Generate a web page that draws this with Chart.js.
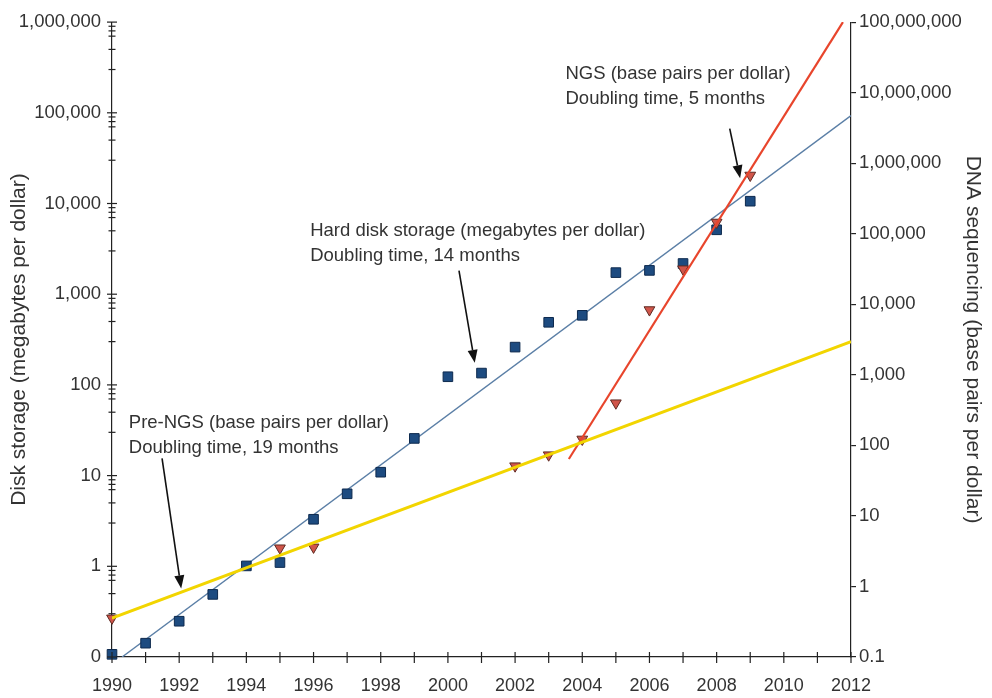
<!DOCTYPE html>
<html>
<head>
<meta charset="utf-8">
<script src="https://cdn.jsdelivr.net/npm/chart.js@4/dist/chart.umd.min.js"></script>
<style>
    html, body { margin: 0; padding: 0; background: #fff; }
    #wrap { width: 992px; height: 698px; position: relative; }
</style>
</head>
<body>
<div id="wrap"><canvas id="chart"></canvas></div>
<script>
// Hard disk storage, megabytes per dollar (left axis)
const diskYears = [1990, 1991, 1992, 1993, 1994, 1995, 1996, 1997, 1998, 1999, 2000, 2001, 2002, 2003, 2004, 2005, 2006, 2007, 2008, 2009]
const diskValues = [0.107, 0.142, 0.248, 0.49, 1.01, 1.1, 3.3, 6.3, 10.9, 25.7, 123, 135, 261, 490, 585, 1730, 1830, 2180, 5130, 10600]

// DNA sequencing, base pairs per dollar (right axis)
const seqYears = [1990, 1995, 1996, 2002, 2003, 2004, 2005, 2006, 2007, 2008, 2009]
const seqValues = [0.355, 3.5, 3.6, 51, 73, 122, 398, 8330, 31600, 145000, 673000]

// fitted trend lines
const diskTrendYears = [1990.3, 2012]
const diskTrendValues = [0.1, 93000]
const preNgsTrendYears = [1990, 2012]
const preNgsTrendValues = [0.355, 2950]
const ngsTrendYears = [2003.6, 2011.76]
const ngsTrendValues = [64, 100000000]

// axes
const yearTicks = [1990, 1991, 1992, 1993, 1994, 1995, 1996, 1997, 1998, 1999, 2000, 2001, 2002, 2003, 2004, 2005, 2006, 2007, 2008, 2009, 2010, 2011, 2012]
const yearLabels = ['1990', '', '1992', '', '1994', '', '1996', '', '1998', '', '2000', '', '2002', '', '2004', '', '2006', '', '2008', '', '2010', '', '2012']
const leftTicks = [0.1, 1, 10, 100, 1000, 10000, 100000, 1000000]
const leftTickLabels = ['0', '1', '10', '100', '1,000', '10,000', '100,000', '1,000,000']
const leftMinorSteps = [3, 5, 7, 8, 9]
const rightTicks = [0.1, 1, 10, 100, 1000, 10000, 100000, 1000000, 10000000, 100000000]
const rightTickLabels = ['0.1', '1', '10', '100', '1,000', '10,000', '100,000', '1,000,000', '10,000,000', '100,000,000']

// notes, placed in (year, left-axis value)
const notes = [
    { lines: ['NGS (base pairs per dollar)', 'Doubling time, 5 months'], year: 2003.5, value: 270000 },
    { lines: ['Hard disk storage (megabytes per dollar)', 'Doubling time, 14 months'], year: 1995.9, value: 5000 },
    { lines: ['Pre-NGS (base pairs per dollar)', 'Doubling time, 19 months'], year: 1990.5, value: 38.5 },
]
const arrows = [
    { from: [2008.39, 67000], to: [2008.7, 19000] },
    { from: [2000.33, 1820], to: [2000.8, 175] },
    { from: [1991.49, 15.5], to: [1992.06, 0.57] },
]

const FONT = '"Liberation Sans", Arial, Helvetica, sans-serif'
const INK = '#333'
const AXIS = '#222'

const toPoints = (xs, ys) => xs.map((x, i) => ({ x: x, y: ys[i] }))

function line(ctx, x1, y1, x2, y2) {
    ctx.beginPath()
    ctx.moveTo(x1, y1)
    ctx.lineTo(x2, y2)
    ctx.stroke()
}

// crossing tick marks on left and bottom axes, plus the notes and arrows
const decorations = {
    id: 'decorations',
    afterDraw(chart) {
        const { ctx, chartArea, scales } = chart
        const x = scales.x
        const y = scales.y
        ctx.save()
        ctx.strokeStyle = AXIS
        ctx.lineWidth = 1.2
        const ax = chartArea.left
        leftTicks.forEach((v) => {
            const py = y.getPixelForValue(v)
            line(ctx, ax - 5, py, ax + 5, py)
        })
        leftTicks.slice(0, -1).forEach((v) => {
            leftMinorSteps.forEach((m) => {
                const py = y.getPixelForValue(v * m)
                line(ctx, ax - 3.5, py, ax + 3.5, py)
            })
        })
        const by = chartArea.bottom
        yearTicks.forEach((yr) => {
            const px = x.getPixelForValue(yr)
            line(ctx, px, by - 5, px, by + 6)
        })

        // notes
        ctx.fillStyle = INK
        ctx.font = '18.5px ' + FONT
        ctx.textAlign = 'left'
        ctx.textBaseline = 'middle'
        notes.forEach((n) => {
            const px = x.getPixelForValue(n.year)
            const py = y.getPixelForValue(n.value)
            n.lines.forEach((t, i) => ctx.fillText(t, px, py + i * 25))
        })

        // arrows
        ctx.strokeStyle = '#111'
        ctx.fillStyle = '#111'
        ctx.lineWidth = 1.6
        arrows.forEach((a) => {
            const x1 = x.getPixelForValue(a.from[0])
            const y1 = y.getPixelForValue(a.from[1])
            const x2 = x.getPixelForValue(a.to[0])
            const y2 = y.getPixelForValue(a.to[1])
            const ang = Math.atan2(y2 - y1, x2 - x1)
            const head = 13
            const hx = x2 - head * Math.cos(ang)
            const hy = y2 - head * Math.sin(ang)
            line(ctx, x1, y1, hx, hy)
            ctx.beginPath()
            ctx.moveTo(x2, y2)
            ctx.lineTo(hx + 5 * Math.sin(ang), hy - 5 * Math.cos(ang))
            ctx.lineTo(hx - 5 * Math.sin(ang), hy + 5 * Math.cos(ang))
            ctx.closePath()
            ctx.fill()
        })
        ctx.restore()
    },
}

const ctx = document.getElementById('chart').getContext('2d')

new Chart(ctx, {
    type: 'scatter',
    data: {
        datasets: [
            {
                label: 'Pre-NGS trend',
                data: toPoints(preNgsTrendYears, preNgsTrendValues),
                yAxisID: 'y2',
                showLine: true,
                borderColor: '#f2d500',
                borderWidth: 3,
                pointRadius: 0,
            },
            {
                label: 'NGS trend',
                data: toPoints(ngsTrendYears, ngsTrendValues),
                yAxisID: 'y2',
                showLine: true,
                borderColor: '#e8452c',
                borderWidth: 2.2,
                pointRadius: 0,
            },
            {
                label: 'DNA sequencing',
                data: toPoints(seqYears, seqValues),
                yAxisID: 'y2',
                clip: false,
                pointStyle: 'triangle',
                rotation: 180,
                pointRadius: 6.2,
                backgroundColor: '#d0554a',
                borderColor: '#5e2a22',
                borderWidth: 1,
            },
            {
                label: 'Disk storage',
                data: toPoints(diskYears, diskValues),
                yAxisID: 'y',
                clip: false,
                pointStyle: 'rect',
                pointRadius: 6.8,
                backgroundColor: '#1d4b80',
                borderColor: '#0e2a4e',
                borderWidth: 1,
            },
            {
                label: 'Disk trend',
                data: toPoints(diskTrendYears, diskTrendValues),
                yAxisID: 'y',
                showLine: true,
                borderColor: '#5b7fa6',
                borderWidth: 1.4,
                pointRadius: 0,
            },
        ],
    },
    options: {
        responsive: true,
        maintainAspectRatio: false,
        animation: false,
        layout: { padding: { top: 19, left: 0, right: 0, bottom: 0 } },
        plugins: {
            legend: { display: false },
            tooltip: { enabled: false },
        },
        scales: {
            x: {
                type: 'linear',
                min: 1990,
                max: 2012,
                afterBuildTicks: (s) => { s.ticks = yearTicks.map((v) => ({ value: v })) },
                afterFit: (s) => { s.height = 41 },
                grid: { display: false, drawTicks: false },
                border: { display: true, color: AXIS, width: 1.2 },
                ticks: {
                    autoSkip: false,
                    maxRotation: 0,
                    padding: 18,
                    color: INK,
                    font: { family: FONT, size: 18 },
                    callback: (v, i) => yearLabels[i],
                },
            },
            y: {
                type: 'logarithmic',
                position: 'left',
                min: 0.1,
                max: 1000000,
                afterBuildTicks: (s) => { s.ticks = leftTicks.map((v) => ({ value: v })) },
                afterFit: (s) => { s.width = 112 },
                grid: { display: false, drawTicks: false },
                border: { display: true, color: AXIS, width: 1.2 },
                ticks: {
                    padding: 11,
                    color: INK,
                    font: { family: FONT, size: 18.5 },
                    callback: (v, i) => leftTickLabels[i],
                },
                title: {
                    display: true,
                    text: 'Disk storage (megabytes per dollar)',
                    color: INK,
                    font: { family: FONT, size: 21 },
                    padding: { top: 7, bottom: 0 },
                },
            },
            y2: {
                type: 'logarithmic',
                position: 'right',
                min: 0.1,
                max: 100000000,
                afterBuildTicks: (s) => { s.ticks = rightTicks.map((v) => ({ value: v })) },
                afterFit: (s) => { s.width = 141 },
                grid: { display: true, drawOnChartArea: false, drawTicks: true, tickLength: 5, color: AXIS, lineWidth: 1.2 },
                border: { display: true, color: AXIS, width: 1.2 },
                ticks: {
                    padding: 3,
                    color: INK,
                    font: { family: FONT, size: 18.5 },
                    callback: (v, i) => rightTickLabels[i],
                },
                title: {
                    display: true,
                    text: 'DNA sequencing (base pairs per dollar)',
                    color: INK,
                    font: { family: FONT, size: 21 },
                    padding: { top: 7, bottom: 0 },
                },
            },
        },
    },
    plugins: [decorations],
})
</script>
</body>
</html>
